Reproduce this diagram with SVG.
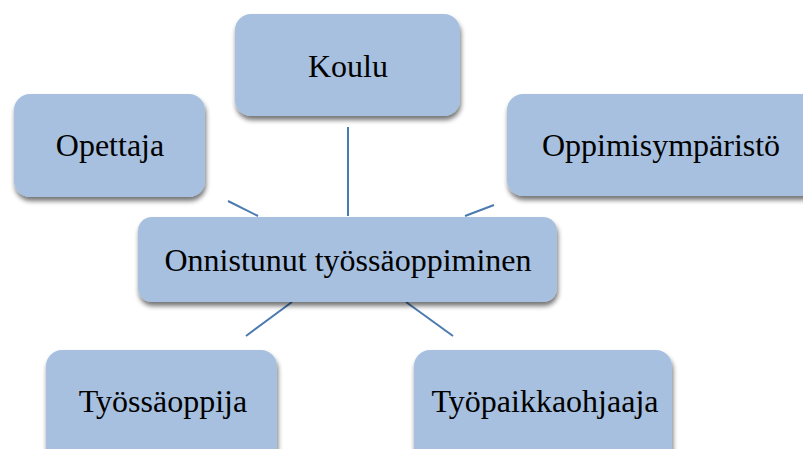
<svg xmlns="http://www.w3.org/2000/svg" width="803" height="449" viewBox="0 0 803 449">
<defs>
<filter id="sh" x="-10%" y="-10%" width="130%" height="140%">
<feGaussianBlur in="SourceAlpha" stdDeviation="2.5"/>
<feOffset dx="1" dy="4" result="b"/>
<feComponentTransfer><feFuncA type="linear" slope="0.55"/></feComponentTransfer>
<feMerge><feMergeNode/><feMergeNode in="SourceGraphic"/></feMerge>
</filter>
</defs>
<style>
.box{fill:#A7C0DF;filter:url(#sh)}
.t{font-family:"Liberation Serif","Times New Roman",serif;font-size:32px;fill:#000;text-anchor:middle}
.c{stroke:#4A7AB0;stroke-width:2;fill:none}
</style>
<rect width="803" height="449" fill="#fff"/>
<g id="connectors">
<line class="c" x1="228" y1="201" x2="258" y2="216"/>
<line class="c" x1="348" y1="127" x2="348" y2="216"/>
<line class="c" x1="465" y1="216" x2="494" y2="205"/>
<line class="c" x1="292" y1="302" x2="246" y2="336"/>
<line class="c" x1="406" y1="302" x2="453" y2="336"/>
</g>
<g id="node-koulu">
<rect class="box" x="235" y="14" width="225" height="102" rx="16"/>
<text class="t" x="348" y="77">Koulu</text>
</g>
<g id="node-opettaja">
<rect class="box" x="14" y="94" width="191" height="103" rx="16"/>
<text class="t" x="110" y="156">Opettaja</text>
</g>
<g id="node-oppimisymparisto">
<rect class="box" x="507" y="94" width="316" height="102" rx="16"/>
<text class="t" x="661" y="156">Oppimisympäristö</text>
</g>
<g id="node-center">
<rect class="box" x="138" y="217" width="419" height="85" rx="14"/>
<text class="t" x="348" y="271">Onnistunut työssäoppiminen</text>
</g>
<g id="node-tyossaoppija">
<rect class="box" x="46" y="350" width="231" height="120" rx="16"/>
<text class="t" x="163" y="412">Työssäoppija</text>
</g>
<g id="node-tyopaikkaohjaaja">
<rect class="box" x="414" y="350" width="258" height="120" rx="16"/>
<text class="t" x="545" y="412">Työpaikkaohjaaja</text>
</g>
</svg>
